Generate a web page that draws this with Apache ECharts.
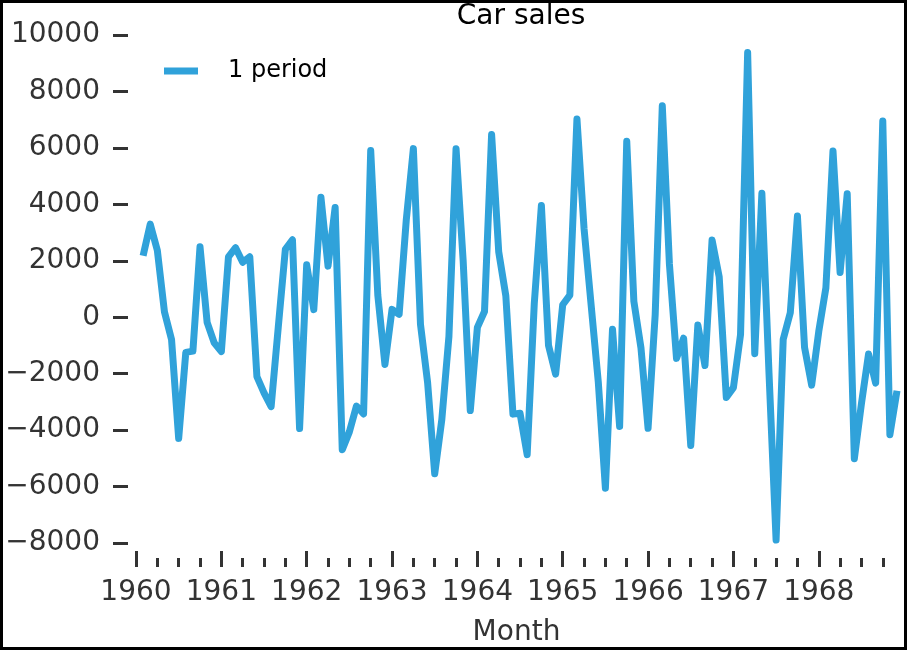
<!DOCTYPE html>
<html>
<head>
<meta charset="utf-8">
<script src="https://cdn.jsdelivr.net/npm/echarts@6/dist/echarts.min.js"></script>
<style>
html,body{margin:0;padding:0;background:#fff;}
#chart{position:absolute;left:0;top:0;width:907px;height:650px;}
#frame{position:absolute;left:0;top:0;width:907px;height:650px;box-sizing:border-box;border:3px solid #000;pointer-events:none;}
</style>
</head>
<body>
<div id="chart"></div>
<div id="frame"></div>
<script>
// Month-over-month change (1 period difference) of car sales, by year
const years = ['1960','1961','1962','1963','1964','1965','1966','1967','1968'];
const diff1960 = [null, 2178, 3298, 2369, 192, -796, -4293, -1247, -1202, 2496, -181, -908];
const diff1961 = [-1219, 2137, 2463, 1947, 2142, -2105, -2678, -3168, -365, 2405, 2744, -3943];
const diff1962 = [1861, 270, 4253, 1810, 3890, -4695, -4062, -3146, -3429, 5906, 782, -1673];
const diff1963 = [279, 103, 3440, 5974, -251, -2312, -5548, -3626, -680, 5970, 2004, -3308];
const diff1964 = [-361, 203, 6474, 2315, 756, -3434, -3406, -4869, 486, 3960, -998, -2016];
const diff1965 = [443, 784, 7025, 3135, 416, -2294, -6058, -422, -3872, 6235, 567, -1086];
const diff1966 = [-3937, 86, 7489, 1886, -1458, -744, -4545, -275, -1712, 2734, 1427, -2842];
const diff1967 = [-2495, -617, 9377, -1293, 4389, -1967, -7894, -786, 164, 3589, -1068, -2406];
const diff1968 = [-503, 1041, 5888, 1586, 4374, -5015, -3060, -1302, -2337, 6957, -4162, -2603];
const yTicks = [-8000, 10000, 2000]; // min, max, step

const monthNums = ['01','02','03','04','05','06','07','08','09','10','11','12'];
const months = [];
years.forEach(y => monthNums.forEach(m => months.push(y + '-' + m)));
const values = [].concat(diff1960, diff1961, diff1962, diff1963, diff1964, diff1965, diff1966, diff1967, diff1968);

const FONT = 'DejaVu Sans';
const TICK = '#333333';

const chart = echarts.init(document.getElementById('chart'), null, {renderer: 'canvas'});
const baseX = {
  type: 'category',
  data: months,
  boundaryGap: false,
  position: 'bottom',
  offset: 24,
  axisLine: {show: false, onZero: false},
  splitLine: {show: false}
};
chart.setOption({
  animation: false,
  backgroundColor: '#fff',
  title: {
    text: 'Car sales',
    left: 516, textAlign: 'center',
    top: -2,
    textStyle: {fontFamily: FONT, fontSize: 28, fontWeight: 'normal', color: '#000'}
  },
  legend: {
    left: 159, top: 54,
    icon: 'rect', itemWidth: 34, itemHeight: 7,
    textStyle: {fontFamily: FONT, fontSize: 24, color: '#000', padding: [0, 0, 0, 25]},
    data: ['1 period']
  },
  grid: {left: 136, right: 10, top: 35, bottom: 107, containLabel: false, outerBoundsMode: 'none'},
  xAxis: [
    Object.assign({}, baseX, {
      name: 'Month', nameLocation: 'middle', nameGap: 52,
      nameTextStyle: {fontFamily: FONT, fontSize: 28, color: TICK},
      axisTick: {show: true, inside: true, length: 16, lineStyle: {color: TICK, width: 3},
                 interval: (i) => i % 12 === 0},
      axisLabel: {show: true, margin: 12, fontFamily: FONT, fontSize: 28, color: TICK,
                  interval: (i) => i % 12 === 0,
                  formatter: (v) => v.slice(0, 4)}
    }),
    Object.assign({}, baseX, {
      axisTick: {show: true, inside: true, length: 9, lineStyle: {color: TICK, width: 3},
                 interval: (i) => i % 3 === 0 && i % 12 !== 0},
      axisLabel: {show: false}
    })
  ],
  yAxis: {
    type: 'value',
    min: yTicks[0], max: yTicks[1], interval: yTicks[2],
    offset: 8,
    axisLine: {show: false},
    splitLine: {show: false},
    axisTick: {show: true, length: 15, lineStyle: {color: TICK, width: 3}},
    axisLabel: {margin: 28, fontFamily: FONT, fontSize: 28, color: TICK,
                formatter: (v) => (v < 0 ? '\u2212' + Math.abs(v) : String(v))}
  },
  series: [{
    name: '1 period',
    type: 'line',
    xAxisIndex: 0,
    data: values,
    showSymbol: false,
    symbol: 'none',
    connectNulls: false,
    color: '#30a2da',
    lineStyle: {color: '#30a2da', width: 7, join: 'round', cap: 'butt'},
    clip: true
  }]
});
</script>
</body>
</html>
